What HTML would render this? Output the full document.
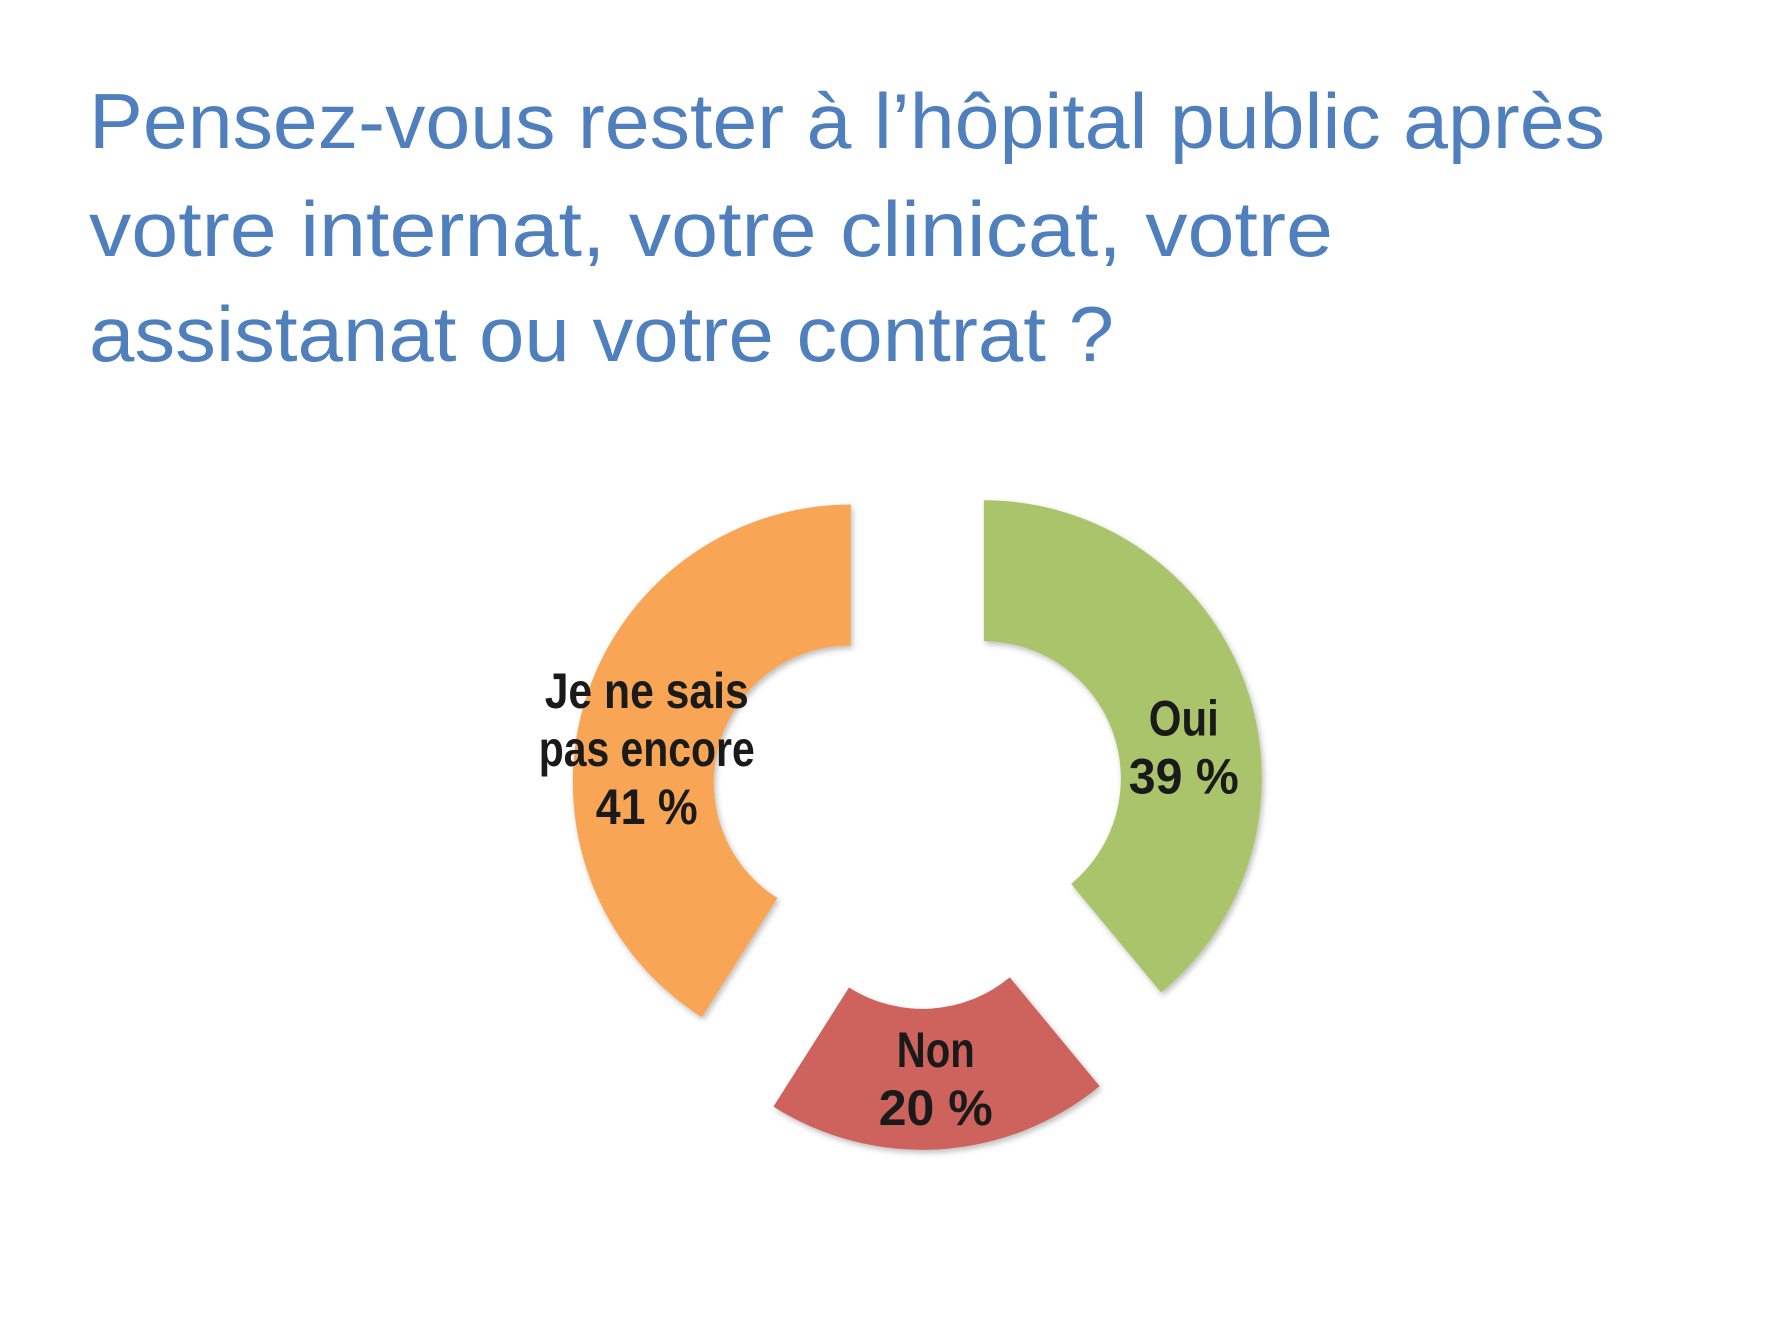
<!DOCTYPE html>
<html><head><meta charset="utf-8"><style>
html,body{margin:0;padding:0;background:#fff;}
svg{display:block;}
</style></head><body>
<svg id="chart" width="1772" height="1329" viewBox="0 0 1772 1329" xmlns="http://www.w3.org/2000/svg">
<defs>
<filter id="sh" x="-20%" y="-20%" width="140%" height="140%"><feDropShadow dx="2" dy="3" stdDeviation="3" flood-color="#000" flood-opacity="0.25"/></filter>
</defs>
<g font-family="'Liberation Sans', sans-serif" font-size="78" fill="#4F7FBD">
<text x="89" y="148" textLength="1516" lengthAdjust="spacingAndGlyphs">Pensez-vous rester à l’hôpital public après</text>
<text x="89" y="256" textLength="1244" lengthAdjust="spacingAndGlyphs">votre internat, votre clinicat, votre</text>
<text x="89" y="361" textLength="1025" lengthAdjust="spacingAndGlyphs">assistanat ou votre contrat ?</text>
</g>
<g id="slices"></g>
<g id="labels" font-family="'Liberation Sans', sans-serif" font-weight="bold" font-size="50" fill="#1a1a1a" text-anchor="middle"></g>
</svg>
<script>
const categories = ["Oui", "Non", "Je ne sais pas encore"];
const values = [39, 20, 41];
const valueLabels = ["39 %", "20 %", "41 %"];
const colors = ["#AAC46C", "#CD635C", "#F8A656"];
const names = ["slice-oui", "slice-non", "slice-je-ne-sais-pas"];

const NS = "http://www.w3.org/2000/svg";
const cx = 918, cy = 802, R = 278, r = 137, off = 70;
const total = values.reduce((a,b)=>a+b,0);
const gS = document.getElementById('slices');
const gL = document.getElementById('labels');
function pt(a, rad, ox, oy){ return [ox + rad*Math.sin(a), oy - rad*Math.cos(a)]; }
const labelLines = [["Oui"], ["Non"], ["Je ne sais", "pas encore"]];
const labelLens = [[70], [78], [204, 216]];
const pctLens = [110, 114, 102];
const labelDy = [40, -6, 25];
let start = 0;
values.forEach((v,i)=>{
  const sweep = v/total*2*Math.PI;
  const end = start + sweep;
  const mid = (start+end)/2;
  const ox = cx + off*Math.sin(mid), oy = cy - off*Math.cos(mid);
  const p1 = pt(start,R,ox,oy), p2 = pt(end,R,ox,oy), p3 = pt(end,r,ox,oy), p4 = pt(start,r,ox,oy);
  const large = sweep > Math.PI ? 1 : 0;
  const d = `M${p1[0]},${p1[1]} A${R},${R} 0 ${large} 1 ${p2[0]},${p2[1]} L${p3[0]},${p3[1]} A${r},${r} 0 ${large} 0 ${p4[0]},${p4[1]} Z`;
  const path = document.createElementNS(NS,'path');
  path.setAttribute('d', d);
  path.setAttribute('fill', colors[i]);
  path.setAttribute('filter', 'url(#sh)');
  
  
  gS.appendChild(path);
  const lr = (R + r)/2 + 5;
  const lp = pt(mid, lr, ox, oy);
  const lines = labelLines[i].concat([valueLabels[i]]);
  const lens = labelLens[i].concat([pctLens[i]]);
  const lh = 58;
  const y0 = lp[1] - (lines.length-1)*lh/2 + 18 + labelDy[i];
  lines.forEach((t,j)=>{
    const tx = document.createElementNS(NS,'text');
    tx.setAttribute('x', lp[0]);
    tx.setAttribute('y', y0 + j*lh);
    tx.setAttribute('textLength', lens[j]);
    tx.setAttribute('lengthAdjust', 'spacingAndGlyphs');
    tx.textContent = t;
    
    
    gL.appendChild(tx);
  });
  start = end;
});
</script>
</body></html>
